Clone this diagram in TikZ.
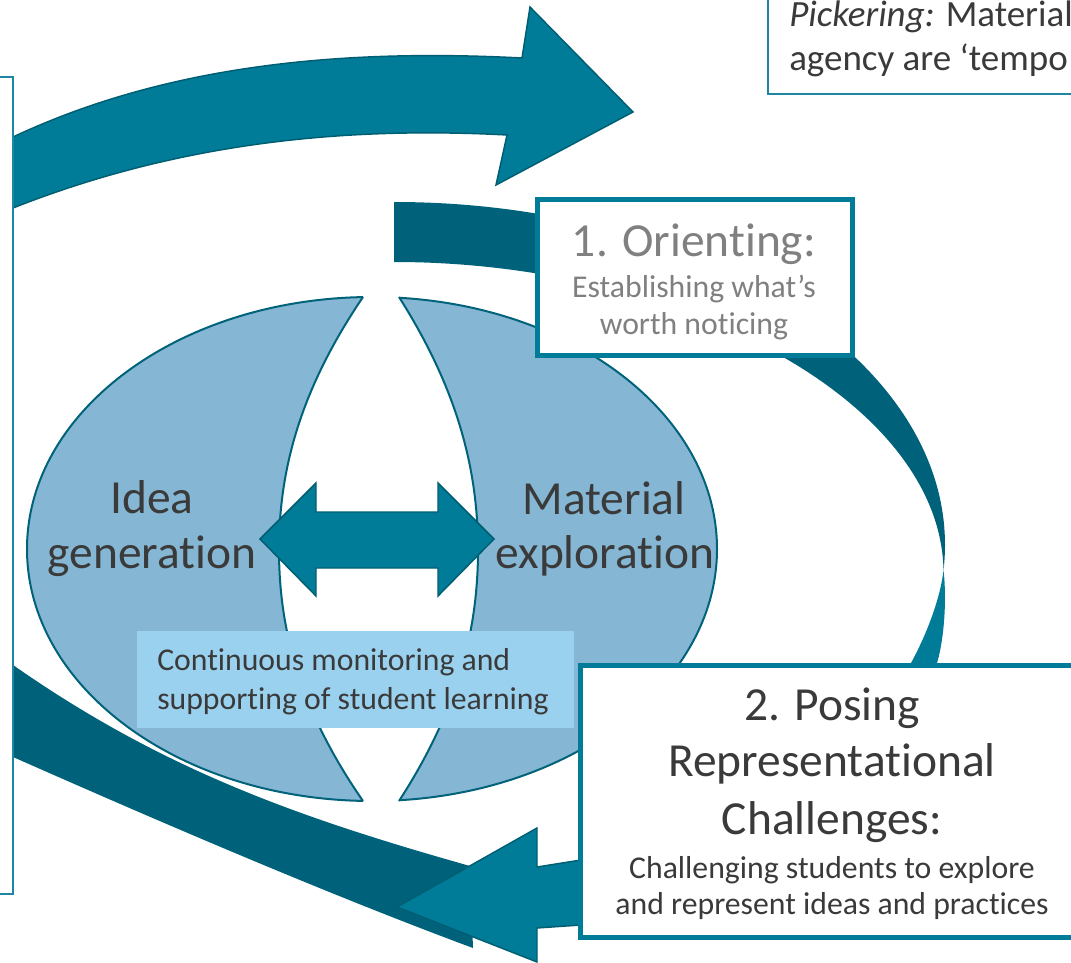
\documentclass[tikz,border=0pt]{standalone}
\usepackage{fontspec}
\setmainfont{Carlito}[Ligatures=NoCommon]
\definecolor{tealA}{HTML}{007C98}
\definecolor{tealD}{HTML}{00627A}
\definecolor{tealLine}{HTML}{005E73}
\definecolor{tealB}{HTML}{1E86A3}
\definecolor{lobeC}{HTML}{85B6D3}
\definecolor{lobeLine}{HTML}{00637A}
\definecolor{monC}{HTML}{9AD1EF}
\definecolor{txt}{HTML}{3A3A3A}
\definecolor{txtgray}{HTML}{808080}
\tikzset{
  arrowfill/.style={fill=tealA, draw=tealLine, line width=1.1pt, line join=miter},
  bandfill/.style={fill=tealD},
  lobeline/.style={draw=lobeLine, line width=1.5pt},
  stagebox/.style={draw=tealA, line width=3.75pt, fill=white},
  thinbox/.style={draw=tealB, line width=1.5pt, fill=white},
  bigtxt/.style={font=\fontsize{35.6pt}{42pt}\selectfont, text=txt, inner sep=0pt, anchor=base},
  smalltxt/.style={font=\fontsize{23.8pt}{28pt}\selectfont, text=txt, inner sep=0pt, anchor=base},
  picktxt/.style={font=\fontsize{27.75pt}{33pt}\selectfont, text=txt, inner sep=0pt, anchor=base west}
}
\begin{document}
\begin{tikzpicture}[x=0.75pt, y=-0.75pt]
\useasboundingbox (0,0) rectangle (1071,963);
\clip (0,0) rectangle (1071,963);

% left lobe of the ellipse
\begin{scope}
  \clip (-5,-5) -- (363,-5) -- (363,297) .. controls (300,390) and (279,470) .. (279,550)
        .. controls (279,630) and (300,710) .. (363,801) -- (363,970) -- (-5,970) -- cycle;
  \fill[lobeC] (372,549) ellipse [x radius=258.75pt, y radius=189pt];
  \draw[lobeline] (372,549) ellipse [x radius=258.75pt, y radius=189pt];
\end{scope}
% right lobe of the ellipse
\begin{scope}
  \clip (1080,-5) -- (399,-5) -- (399,297) .. controls (458,390) and (478,470) .. (478,550)
        .. controls (478,630) and (458,710) .. (399,801) -- (399,970) -- (1080,970) -- cycle;
  \fill[lobeC] (372,549) ellipse [x radius=258.75pt, y radius=189pt];
  \draw[lobeline] (372,549) ellipse [x radius=258.75pt, y radius=189pt];
\end{scope}
\draw[lobeline] (363,297) .. controls (300,390) and (279,470) .. (279,550)
        .. controls (279,630) and (300,710) .. (363,801);
\draw[lobeline] (399,297) .. controls (458,390) and (478,470) .. (478,550)
        .. controls (478,630) and (458,710) .. (399,801);

% double arrow
\draw[arrowfill] (260,539) -- (316,483) -- (316,512) -- (438,512) -- (438,483) -- (494,539)
  -- (438,596) -- (438,568) -- (316,568) -- (316,596) -- cycle;

% monitoring box
\fill[monC] (137,631) rectangle (574,728);

% top curved arrow
\draw[arrowfill] (13,137) .. controls (160,68) and (330,48) .. (522,58) -- (530,7) -- (633,112)
  -- (496,185) -- (507,135) .. controls (320,125) and (160,150) .. (13,208) -- cycle;

% right curved band: back face
\fill[bandfill] (394,202) .. controls (698,202) and (945,355.6) .. (945,545)
  .. controls (945,553) and (944.5,562) .. (943.5,570)
  .. controls (940,400) and (680,262) .. (394,262) -- cycle;
% right curved band: front face
\fill[tealA] (943.5,570) .. controls (947,600) and (944,640) .. (937,663) -- (930,700)
  -- (895,700) -- (911,663) .. controls (928,632) and (941,595) .. (943.5,570) -- cycle;

% bottom curved band: back face
\fill[bandfill] (13,665) .. controls (163,770) and (300,818) .. (470,866) -- (473,948)
  .. controls (330,895) and (160,822) .. (13,757) -- cycle;
% bottom arrow: front face with head
\draw[arrowfill] (620,855) -- (581,860) -- (537,867) -- (537,828) -- (397,907) -- (537,962)
  -- (537,928) -- (581,925) -- (620,922) -- cycle;

% boxes
\draw[stagebox] (537,200) rectangle (852,355);
\draw[stagebox] (580,665) rectangle (1100,937);
\draw[thinbox] (-20,77) rectangle (13,894);
\draw[thinbox] (768,-20) rectangle (1100,94);

% texts
\node[bigtxt] (idea1) at (152,513) {Idea};
\node[bigtxt] (idea2) at (152,568) {generation};
\node[bigtxt] (mat1) at (604,514) {Material};
\node[bigtxt] (mat2) at (605,568) {exploration};
\node[bigtxt, text=txtgray] (or1) at (694,256) {1. Orienting:};
\node[smalltxt, text=txtgray] (or2) at (694,297) {Establishing what’s};
\node[smalltxt, text=txtgray] (or3) at (694,334) {worth noticing};
\node[bigtxt] (po1) at (832,720) {2. Posing};
\node[bigtxt] (po2) at (832,776) {Representational};
\node[bigtxt] (po3) at (832,834) {Challenges:};
\node[smalltxt] (po4) at (832,878) {Challenging students to explore};
\node[smalltxt] (po5) at (832,914) {and represent ideas and practices};
\node[smalltxt, anchor=base west] (mon1) at (157,670) {Continuous monitoring and};
\node[smalltxt, anchor=base west] (mon2) at (157,709) {supporting of student learning};
\node[picktxt] (pk1) at (789,27) {\textit{Pickering:} Material};
\node[picktxt] (pk2) at (789,71) {agency are ‘tempo};
\end{tikzpicture}
\end{document}
